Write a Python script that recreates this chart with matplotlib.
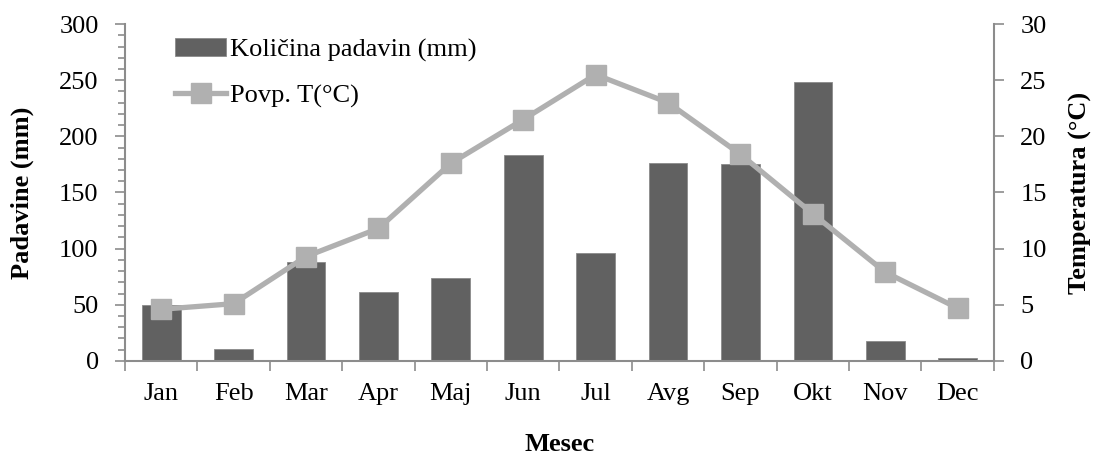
import matplotlib.pyplot as plt
from matplotlib.ticker import MultipleLocator

plt.rcParams['font.family'] = ['Liberation Serif', 'DejaVu Serif']

months = ['Jan', 'Feb', 'Mar', 'Apr', 'Maj', 'Jun', 'Jul', 'Avg', 'Sep', 'Okt', 'Nov', 'Dec']
rain = [49.5, 10.5, 88, 61, 74, 183, 96, 176, 175, 248, 17.5, 3]
temp = [4.6, 5.1, 9.3, 11.8, 17.6, 21.5, 25.5, 23.0, 18.4, 13.1, 7.9, 4.7]

bar_col = '#616161'
line_col = '#b0b0b0'
axis_col = '#8c8c8c'
fs = 19

fig = plt.figure(figsize=(10.97, 4.54), dpi=100)
ax = fig.add_axes([0.114, 0.205, 0.792, 0.742])
ax2 = ax.twinx()

x = range(len(months))
bars = ax.bar(x, rain, width=0.535, color=bar_col, edgecolor='#8a8a8a', linewidth=0.6,
              label='Količina padavin (mm)', zorder=2)
line, = ax2.plot(x, temp, color=line_col, lw=3.8, marker='s', markersize=14,
                 label='Povp. T(°C)', zorder=3)

ax.set_xlim(-0.5, 11.5)
ax.set_ylim(0, 300)
ax2.set_ylim(0, 30)
ax.yaxis.set_major_locator(MultipleLocator(50))
ax.yaxis.set_minor_locator(MultipleLocator(10))
ax2.yaxis.set_major_locator(MultipleLocator(5))

ax.set_xticks(list(x))
ax.set_xticklabels(months)
ax.set_xticks([i - 0.5 for i in range(13)], minor=True)
ax.tick_params(axis='x', which='major', length=0, pad=16, labelsize=fs)
ax.tick_params(axis='x', which='minor', length=7, color=axis_col, width=1.2)
ax.tick_params(axis='y', which='major', length=7, color=axis_col, width=1.2, labelsize=fs, pad=12)
ax.tick_params(axis='y', which='minor', length=5, color=axis_col, width=1.2)
ax2.tick_params(axis='y', which='major', length=7, color=axis_col, width=1.2, labelsize=fs, pad=12)

for a in (ax, ax2):
    a.spines['top'].set_visible(False)
    for s in ('left', 'right', 'bottom'):
        a.spines[s].set_color(axis_col)
        a.spines[s].set_linewidth(1.5)
ax.spines['right'].set_visible(False)
ax2.spines['left'].set_visible(False)
ax2.spines['bottom'].set_visible(False)

ax.set_ylabel('Padavine (mm)', fontsize=fs, fontweight='bold', labelpad=18)
ax2.set_ylabel('Temperatura (°C)', fontsize=fs, fontweight='bold', labelpad=16)
ax.set_xlabel('Mesec', fontsize=fs, fontweight='bold', labelpad=20)

ax.legend([bars, line], ['Količina padavin (mm)', 'Povp. T(°C)'], loc='upper left',
          bbox_to_anchor=(0.03, 1.03), frameon=False, fontsize=fs, handlelength=1.95,
          handletextpad=0.15, labelspacing=0.85)

fig.savefig('out.png', dpi=100)
